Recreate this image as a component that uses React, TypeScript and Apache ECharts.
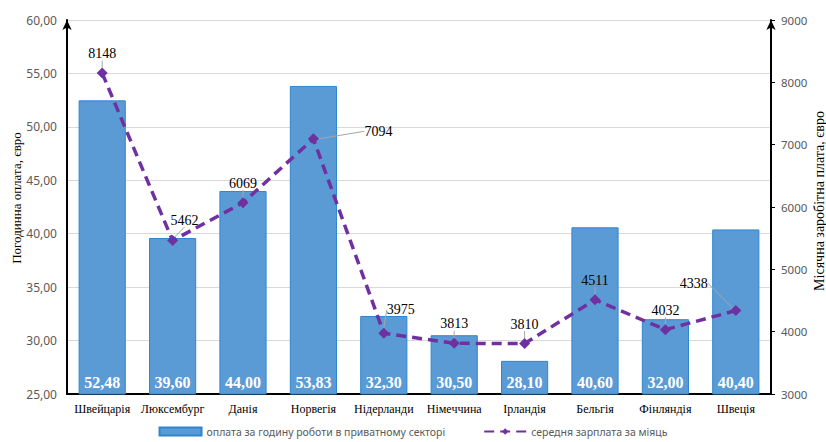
import React, { useEffect, useRef } from "react";
import * as echarts from "echarts";

const countries = ["Швейцарія", "Люксембург", "Данія", "Норвегія", "Нідерланди", "Німеччина", "Ірландія", "Бельгія", "Фінляндія", "Швеція"];
const hourlyPay = [52.48, 39.6, 44.0, 53.83, 32.3, 30.5, 28.1, 40.6, 32.0, 40.4];
const monthlySalary = [8148, 5462, 6069, 7094, 3975, 3813, 3810, 4511, 4032, 4338];
const barName = "оплата за годину роботи в приватному секторі";
const lineName = "середня зарплата за міяць";
const leftTitle = "Погодинна оплата, євро";
const rightTitle = "Місячна заробітна плата, євро";
// label shifts for labels with leader lines [dx, dy]
const labelShift: Record<number, [number, number]> = { 1: [12, -1], 3: [65, 12], 4: [17, -4], 9: [-42, -8] };

const SERIF = "'Liberation Serif', 'DejaVu Serif', serif";
const SANS = "'Noto Sans', 'Liberation Sans', sans-serif";

export default function App() {
  const ref = useRef<HTMLDivElement>(null);
  useEffect(() => {
    document.body.style.margin = "0";
    const chart = echarts.init(ref.current!, undefined, { renderer: "svg" });
    chart.setOption({
      animation: false,
      backgroundColor: "#ffffff",
      grid: { left: 67, right: 55, top: 20, bottom: 48 },
      legend: {
        bottom: 0,
        left: "center",
        itemGap: 38,
        itemWidth: 42,
        itemHeight: 8,
        textStyle: { fontFamily: SANS, fontSize: 10.5, color: "#595959" },
        data: [
          { name: barName, icon: "rect" },
          { name: lineName },
        ],
      },
      graphic: [
        {
          type: "text",
          x: 16,
          y: 198,
          rotation: Math.PI / 2,
          style: { text: leftTitle, fontFamily: SERIF, fontSize: 13, fill: "#000", align: "center", verticalAlign: "middle" },
        },
        {
          type: "text",
          x: 819,
          y: 201,
          rotation: Math.PI / 2,
          style: { text: rightTitle, fontFamily: SERIF, fontSize: 14, fill: "#000", align: "center", verticalAlign: "middle" },
        },
      ],
      xAxis: {
        type: "category",
        data: countries,
        axisLine: { lineStyle: { color: "#000", width: 2 } },
        axisTick: { show: false },
        axisLabel: { fontFamily: SERIF, fontSize: 12, color: "#000", margin: 9, interval: 0 },
      },
      yAxis: [
        {
          type: "value",
          min: 25,
          max: 60,
          interval: 5,
          axisLine: { show: true, symbol: ["none", "arrow"], symbolSize: [7, 10], lineStyle: { color: "#000", width: 2 } },
          axisTick: { show: false },
          axisLabel: {
            fontFamily: SANS,
            fontSize: 12,
            color: "#595959",
            margin: 10,
            formatter: (v: number) => v.toFixed(2).replace(".", ","),
          },
          splitLine: { lineStyle: { color: "#d9d9d9", width: 1 } },
        },
        {
          type: "value",
          min: 3000,
          max: 9000,
          interval: 1000,
          position: "right",
          axisLine: { show: true, symbol: ["none", "arrow"], symbolSize: [7, 10], lineStyle: { color: "#000", width: 2 } },
          axisTick: { show: true, length: 4, lineStyle: { color: "#000", width: 1 } },
          axisLabel: { fontFamily: SANS, fontSize: 11.5, color: "#595959", margin: 10, formatter: (v: number) => String(v) },
          splitLine: { show: false },
        },
      ],
      series: [
        {
          name: barName,
          type: "bar",
          data: hourlyPay,
          barWidth: "67%",
          itemStyle: { color: "#5b9bd5", borderColor: "#2e86d0", borderWidth: 1 },
          label: {
            show: true,
            position: "insideBottom",
            distance: 4,
            color: "#ffffff",
            fontFamily: SERIF,
            fontWeight: "bold",
            fontSize: 16,
            formatter: (p: any) => p.value.toFixed(2).replace(".", ","),
          },
          z: 2,
        },
        {
          name: lineName,
          type: "line",
          yAxisIndex: 1,
          data: monthlySalary,
          symbol: "diamond",
          symbolSize: 11,
          itemStyle: { color: "#7030a0" },
          lineStyle: { color: "#7030a0", width: 3.5, type: [10, 6] },
          label: {
            show: true,
            position: "top",
            distance: 7,
            color: "#000",
            fontFamily: SERIF,
            fontSize: 14,
          },
          labelLine: { show: true, lineStyle: { color: "#a6a6a6", width: 1 } },
          labelLayout: (p: any) => {
            const s = labelShift[p.dataIndex];
            return s ? { dx: s[0], dy: s[1] } : {};
          },
          z: 5,
        },
      ],
    });
    return () => chart.dispose();
  }, []);
  return <div ref={ref} style={{ width: 826, height: 442 }} />;
}
